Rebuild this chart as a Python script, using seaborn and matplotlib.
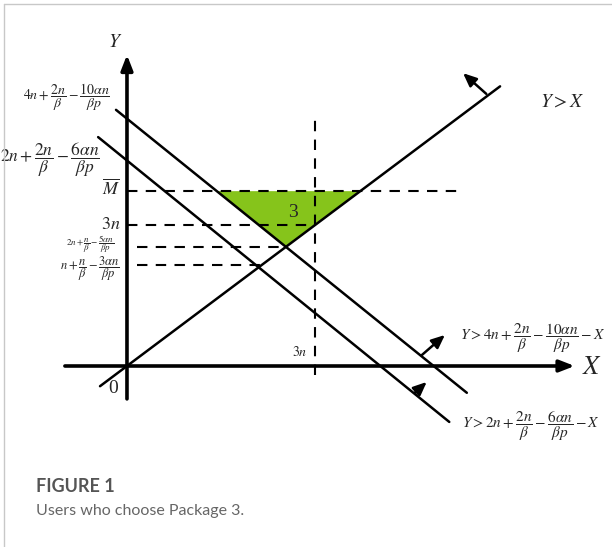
"""Users who choose Package 3: feasible region diagram."""
import matplotlib

matplotlib.use("Agg")

import matplotlib.pyplot as plt
import numpy as np
import seaborn as sns

sns.set_style("white")
plt.rcParams["font.family"] = ["Liberation Serif", "DejaVu Serif"]
plt.rcParams["mathtext.fontset"] = "stix"

# data (in units of n)
diag_x = [-0.43, 5.95]                 # line Y = X
upper_x = [-0.175, 5.42]               # Y = 4n + 2n/b - 10an/bp - X
upper_y = [5.45, -0.57]
lower_x = [-0.46, 5.14]                # Y = 2n + 2n/b - 6an/bp - X
lower_y = [4.87, -1.19]
level_names = ["M", "3n", "2n+n/b-5an/bp", "n+n/b-3an/bp"]
level_vals = [3.72, 3.0, 2.53, 2.15]
level_start = [0.0, 0.0, 0.16, 0.16]
level_end = [5.28, 3.0, 2.53, 2.12]
x_cut = 3.0
x_cut_span = [-0.2, 5.23]

fig = plt.figure(figsize=(6.12, 5.47), dpi=100)
ax = fig.add_axes([0, 0, 1, 1])
ax.set_xlim(-2.025, 7.735)
ax.set_ylim(-3.851, 7.787)
ax.axis("off")

line_kw = dict(color="black", estimator=None, sort=False, ax=ax)
dash = (0, (5, 4))

# frame of the figure panel
fig.add_artist(plt.Line2D([4 / 612, 4 / 612], [0, 1 - 4 / 547], color="#c8c8c8", lw=1))
fig.add_artist(plt.Line2D([4 / 612, 1], [1 - 4 / 547, 1 - 4 / 547], color="#c8c8c8", lw=1))

# green region 3
m_val = level_vals[0]
left_v = np.interp(m_val, upper_y[::-1], upper_x[::-1])
bottom_v = level_vals[2]
ax.fill([left_v, m_val, bottom_v], [m_val, m_val, bottom_v], color="#86c41b", zorder=1, lw=0)
ax.text(2.65, 3.26, "3", fontsize=14, ha="center", va="center")

# axes with arrows
arrow_kw = dict(arrowstyle="-|>,head_length=0.9,head_width=0.35", lw=2.6, color="black",
                shrinkA=0, shrinkB=0)
ax.annotate("", xy=(7.14, 0), xytext=(-0.99, 0), arrowprops=arrow_kw)
ax.annotate("", xy=(0, 6.62), xytext=(0, -0.7), arrowprops=arrow_kw)

# constraint lines
sns.lineplot(x=diag_x, y=diag_x, lw=1.8, **line_kw)
sns.lineplot(x=upper_x, y=upper_y, lw=1.8, **line_kw)
sns.lineplot(x=lower_x, y=lower_y, lw=1.8, **line_kw)

# dashed guides
for val, x0, x1 in zip(level_vals, level_start, level_end):
    sns.lineplot(x=[x0, x1], y=[val, val], lw=1.5, linestyle=dash, **line_kw)
sns.lineplot(x=[x_cut, x_cut], y=x_cut_span, lw=1.5, linestyle=dash, **line_kw)

# direction arrows
small_arrow = dict(arrowstyle="-|>,head_length=0.8,head_width=0.35", lw=1.8, color="black",
                   shrinkA=0, shrinkB=0)
ax.annotate("", xy=(5.36, 6.23), xytext=(5.73, 5.79), arrowprops=small_arrow)
ax.annotate("", xy=(5.07, 0.66), xytext=(4.70, 0.23), arrowprops=small_arrow)
ax.annotate("", xy=(4.78, -0.34), xytext=(4.59, -0.57), arrowprops=small_arrow)

# labels
ax.text(-0.19, 6.89, "$Y$", fontsize=14, ha="center", va="center")
ax.text(7.42, -0.04, "$X$", fontsize=19, ha="center", va="center")
ax.text(-0.22, -0.47, "0", fontsize=14, ha="center", va="center")
ax.text(6.59, 5.62, "$Y > X$", fontsize=14, ha="left", va="center")
ax.text(5.31, 0.6, r"$Y > 4n+\dfrac{2n}{\beta}-\dfrac{10\alpha n}{\beta p}-X$",
        fontsize=11, ha="left", va="center")
ax.text(5.34, -1.28, r"$Y > 2n+\dfrac{2n}{\beta}-\dfrac{6\alpha n}{\beta p}-X$",
        fontsize=11, ha="left", va="center")
ax.text(-0.27, 5.72, r"$4n+\dfrac{2n}{\beta}-\dfrac{10\alpha n}{\beta p}$",
        fontsize=10, ha="right", va="center")
ax.text(-0.43, 4.38, r"$2n+\dfrac{2n}{\beta}-\dfrac{6\alpha n}{\beta p}$",
        fontsize=12.5, ha="right", va="center")
ax.text(-0.11, 3.78, r"$\overline{M}$", fontsize=13, ha="right", va="center")
ax.text(-0.11, 3.02, "$3n$", fontsize=13, ha="right", va="center")
ax.text(-0.2, 2.6, r"$2n+\dfrac{n}{\beta}-\dfrac{5\alpha n}{\beta p}$",
        fontsize=6.5, ha="right", va="center")
ax.text(-0.11, 2.08, r"$n+\dfrac{n}{\beta}-\dfrac{3\alpha n}{\beta p}$",
        fontsize=9, ha="right", va="center")
ax.text(2.75, 0.3, "$3n$", fontsize=10, ha="center", va="center")

# caption
fig.text(36 / 612, 1 - 487 / 547, "FIGURE 1", fontsize=13, fontweight="bold",
         color="#555555", family="Lato", va="center")
fig.text(36 / 612, 1 - 511 / 547, "Users who choose Package 3.", fontsize=11.5,
         color="#666666", family="Lato", va="center")

fig.savefig("out.png", dpi=100)
plt.close(fig)
